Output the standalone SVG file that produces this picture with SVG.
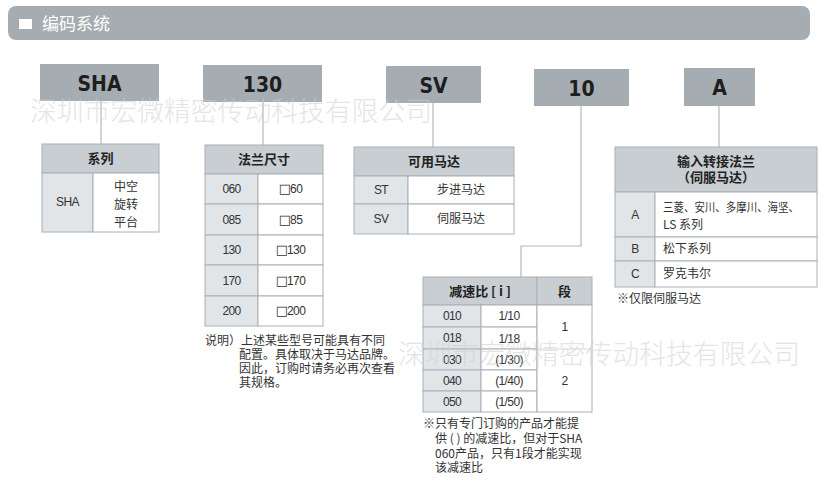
<svg xmlns="http://www.w3.org/2000/svg" width="827" height="483" viewBox="0 0 827 483">
<style>
.bar{fill:#a6adb2}
.code{fill:#a6adb2}
.codet{font-family:"DejaVu Sans Condensed","DejaVu Sans",sans-serif;font-weight:bold;font-size:21px;fill:#1e1e1e;text-anchor:middle}
.hd{fill:#c9ced2;stroke:#a9b0b5;stroke-width:1}
.lc{fill:#e2e5e8;stroke:#a9b0b5;stroke-width:1}
.wc{fill:#ffffff;stroke:#a9b0b5;stroke-width:1}
.ht{font-family:"Noto Sans CJK SC","Noto Sans",sans-serif;font-weight:bold;font-size:13px;fill:#222;text-anchor:middle}
.bt{font-family:"Noto Sans CJK SC","Noto Sans",sans-serif;font-size:12px;fill:#333;text-anchor:middle}
.nt{font-family:"Liberation Sans","Noto Sans CJK SC",sans-serif;font-size:12px;fill:#333;text-anchor:middle;letter-spacing:-0.6px}
.sq{font-family:"DejaVu Sans",sans-serif;font-size:13px;letter-spacing:-1px}
.lt{font-family:"Noto Sans CJK SC","Noto Sans",sans-serif;font-size:12px;fill:#333}
.con{stroke:#b3b9be;stroke-width:1.2;fill:none}
.wm{font-family:"Noto Sans CJK SC",sans-serif;font-weight:300;font-size:27px;fill:#cfcfcf;opacity:0.55}
</style>
<rect x="0" y="0" width="827" height="483" fill="#ffffff"/>
<g id="title">
<rect class="bar" x="8" y="6" width="802" height="34" rx="8"/>
<rect x="19" y="19" width="13" height="10" fill="#ffffff"/>
<text x="42" y="30" font-family="Noto Sans CJK SC,sans-serif" font-size="17" fill="#ffffff">编码系统</text>
</g>
<g id="connectors">
<line class="con" x1="101" y1="101" x2="101" y2="144"/>
<line class="con" x1="263" y1="102" x2="263" y2="145"/>
<line class="con" x1="433" y1="103" x2="433" y2="147"/>
<polyline class="con" points="581,106 581,246 521,246 521,277"/>
<line class="con" x1="719" y1="106" x2="719" y2="147"/>
</g>
<g id="code-sha"><rect class="code" x="40" y="64" width="119" height="37"/><text class="codet" x="99.5" y="91">SHA</text></g>
<g id="code-130"><rect class="code" x="203" y="65" width="119" height="37"/><text class="codet" x="262.5" y="92">130</text></g>
<g id="code-sv"><rect class="code" x="386" y="66" width="95" height="37"/><text class="codet" x="433.5" y="93">SV</text></g>
<g id="code-10"><rect class="code" x="534" y="69" width="95" height="37"/><text class="codet" x="581.5" y="96">10</text></g>
<g id="code-a"><rect class="code" x="684" y="68" width="71" height="38"/><text class="codet" x="719.5" y="95">A</text></g>

<g id="table-series">
<rect class="hd" x="42" y="144" width="117" height="29"/>
<text class="ht" x="100.5" y="163">系列</text>
<rect class="lc" x="42" y="173" width="51" height="59"/>
<rect class="wc" x="93" y="173" width="66" height="59"/>
<text class="nt" x="67.5" y="206">SHA</text>
<text class="bt" x="126" y="191">中空</text>
<text class="bt" x="126" y="209">旋转</text>
<text class="bt" x="126" y="227">平台</text>
</g>

<g id="table-flange">
<rect class="hd" x="205" y="145" width="118" height="29"/>
<text class="ht" x="264" y="164">法兰尺寸</text>
<rect class="lc" x="205" y="174" width="53" height="30"/><rect class="wc" x="258" y="174" width="65" height="30"/>
<rect class="lc" x="205" y="204" width="53" height="31"/><rect class="wc" x="258" y="204" width="65" height="31"/>
<rect class="lc" x="205" y="235" width="53" height="30"/><rect class="wc" x="258" y="235" width="65" height="30"/>
<rect class="lc" x="205" y="265" width="53" height="31"/><rect class="wc" x="258" y="265" width="65" height="31"/>
<rect class="lc" x="205" y="296" width="53" height="30"/><rect class="wc" x="258" y="296" width="65" height="30"/>
<text class="nt" x="231.5" y="193">060</text><text class="nt" x="290.5" y="193"><tspan class="sq">□</tspan>60</text>
<text class="nt" x="231.5" y="224">085</text><text class="nt" x="290.5" y="224"><tspan class="sq">□</tspan>85</text>
<text class="nt" x="231.5" y="254">130</text><text class="nt" x="290.5" y="254"><tspan class="sq">□</tspan>130</text>
<text class="nt" x="231.5" y="285">170</text><text class="nt" x="290.5" y="285"><tspan class="sq">□</tspan>170</text>
<text class="nt" x="231.5" y="315">200</text><text class="nt" x="290.5" y="315"><tspan class="sq">□</tspan>200</text>
</g>
<g id="note-flange">
<text class="lt" x="205" y="345">说明）上述某些型号可能具有不同</text>
<text class="lt" x="239" y="359">配置。具体取决于马达品牌。</text>
<text class="lt" x="239" y="373">因此，订购时请务必再次查看</text>
<text class="lt" x="239" y="387">其规格。</text>
</g>

<g id="table-motor">
<rect class="hd" x="354" y="147" width="160" height="29"/>
<text class="ht" x="434" y="166">可用马达</text>
<rect class="lc" x="354" y="176" width="54" height="28"/><rect class="wc" x="408" y="176" width="106" height="28"/>
<rect class="lc" x="354" y="204" width="54" height="30"/><rect class="wc" x="408" y="204" width="106" height="30"/>
<text class="nt" x="381" y="194">ST</text><text class="bt" x="461" y="194">步进马达</text>
<text class="nt" x="381" y="223">SV</text><text class="bt" x="461" y="223">伺服马达</text>
</g>

<g id="table-ratio">
<rect class="hd" x="423" y="277" width="114" height="28"/>
<rect class="hd" x="537" y="277" width="55" height="28"/>
<text class="ht" x="480" y="296">减速比 [ i ]</text>
<text class="ht" x="564.5" y="296">段</text>
<rect class="lc" x="423" y="305" width="58" height="22"/><rect class="wc" x="481" y="305" width="56" height="22"/>
<rect class="lc" x="423" y="327" width="58" height="22"/><rect class="wc" x="481" y="327" width="56" height="22"/>
<rect class="lc" x="423" y="349" width="58" height="21"/><rect class="wc" x="481" y="349" width="56" height="21"/>
<rect class="lc" x="423" y="370" width="58" height="21"/><rect class="wc" x="481" y="370" width="56" height="21"/>
<rect class="lc" x="423" y="391" width="58" height="21"/><rect class="wc" x="481" y="391" width="56" height="21"/>
<rect class="wc" x="537" y="305" width="55" height="107"/>
<line x1="537" y1="349" x2="592" y2="349" stroke="#d3d7da" stroke-width="1"/>
<text class="nt" x="452" y="320">010</text><text class="nt" x="509" y="320">1/10</text>
<text class="nt" x="452" y="342">018</text><text class="nt" x="509" y="343">1/18</text>
<text class="nt" x="452" y="364">030</text><text class="nt" x="509" y="364">(1/30)</text>
<text class="nt" x="452" y="385">040</text><text class="nt" x="509" y="385">(1/40)</text>
<text class="nt" x="452" y="406">050</text><text class="nt" x="509" y="406">(1/50)</text>
<text class="nt" x="564.5" y="331">1</text>
<text class="nt" x="564.5" y="385">2</text>
</g>
<g id="note-ratio">
<text class="lt" x="423" y="428">※只有专门订购的产品才能提</text>
<text class="lt" x="435" y="443">供 ( ) 的减速比，但对于SHA</text>
<text class="lt" x="435" y="458">060产品，只有1段才能实现</text>
<text class="lt" x="435" y="472">该减速比</text>
</g>

<g id="table-input">
<rect class="hd" x="615" y="147" width="202" height="45"/>
<text class="ht" x="716" y="166">输入转接法兰</text>
<text class="ht" x="716" y="182">（伺服马达）</text>
<rect class="lc" x="615" y="192" width="40" height="45"/><rect class="wc" x="655" y="192" width="162" height="45"/>
<rect class="lc" x="615" y="237" width="40" height="24"/><rect class="wc" x="655" y="237" width="162" height="24"/>
<rect class="lc" x="615" y="261" width="40" height="26"/><rect class="wc" x="655" y="261" width="162" height="26"/>
<text class="nt" x="635" y="219">A</text>
<text class="nt" x="635" y="253">B</text>
<text class="nt" x="635" y="278">C</text>
<text class="lt" x="663" y="212" textLength="136" lengthAdjust="spacingAndGlyphs">三菱、安川、多摩川、海坚、</text>
<text class="lt" x="663" y="229">LS 系列</text>
<text class="lt" x="663" y="253">松下系列</text>
<text class="lt" x="663" y="278">罗克韦尔</text>
<text class="lt" x="617" y="303">※仅限伺服马达</text>
</g>

<g id="watermark">
<text class="wm" x="30" y="121" textLength="402" lengthAdjust="spacingAndGlyphs">深圳市宏微精密传动科技有限公司</text>
<text class="wm" x="398" y="364" textLength="402" lengthAdjust="spacingAndGlyphs">深圳市宏微精密传动科技有限公司</text>
</g>
</svg>
